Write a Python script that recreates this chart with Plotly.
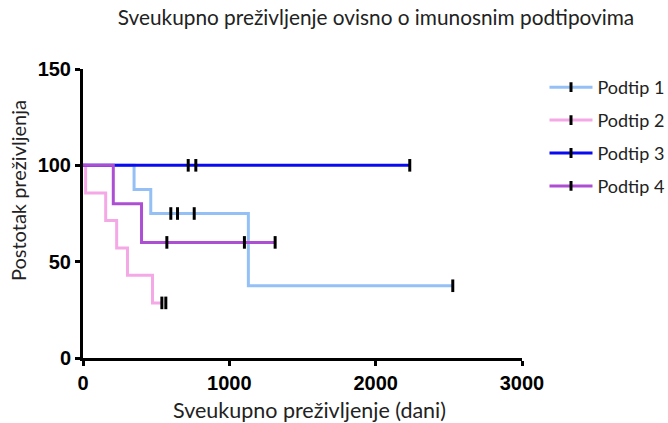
import plotly.graph_objects as go

# Survival curves (step functions): days and percent survival
names = ["Podtip 1", "Podtip 2", "Podtip 3", "Podtip 4"]
colors = ["#94c0f5", "#f5a8e6", "#0a0af0", "#ad4fd3"]

p1_days = [0, 349, 463, 1130, 2527]
p1_surv = [100, 87.5, 75, 37.5, 37.5]
p1_cens_days = [600, 646, 760, 2527]
p1_cens_surv = [75, 75, 75, 37.5]

p2_days = [0, 18, 155, 230, 304, 475, 545]
p2_surv = [100, 85.7, 71.4, 57.1, 42.9, 28.6, 28.6]
p2_cens_days = [539, 566]
p2_cens_surv = [28.6, 28.6]

p3_days = [0, 2233]
p3_surv = [100, 100]
p3_cens_days = [719, 771, 2233]
p3_cens_surv = [100, 100, 100]

p4_days = [0, 207, 400, 1313]
p4_surv = [100, 80, 60, 60]
p4_cens_days = [573, 1103, 1313]
p4_cens_surv = [60, 60, 60]

x_ticks = [0, 1000, 2000, 3000]
y_ticks = [0, 50, 100, 150]

series = [
    (p1_days, p1_surv, p1_cens_days, p1_cens_surv),
    (p2_days, p2_surv, p2_cens_days, p2_cens_surv),
    (p3_days, p3_surv, p3_cens_days, p3_cens_surv),
    (p4_days, p4_surv, p4_cens_days, p4_cens_surv),
]

fig = go.Figure()
for i, (d, s, cd, cs) in enumerate(series):
    fig.add_trace(go.Scatter(x=d, y=s, mode="lines", line=dict(color=colors[i], width=3, shape="hv"),
                             showlegend=False, hoverinfo="skip"))
for i, (d, s, cd, cs) in enumerate(series):
    fig.add_trace(go.Scatter(x=cd, y=cs, mode="markers", showlegend=False, cliponaxis=False,
                             marker=dict(symbol="line-ns", size=9, color="black",
                                         line=dict(color="black", width=3))))
for i in range(4):
    fig.add_trace(go.Scatter(x=[None], y=[None], mode="lines+markers", name=names[i],
                             legendgroup=names[i],
                             line=dict(color=colors[i], width=3),
                             marker=dict(symbol="line-ns", size=7, color="black",
                                         line=dict(color="black", width=3))))

axis_common = dict(showgrid=False, zeroline=False, showline=True, linecolor="black", linewidth=3,
                   ticks="outside", ticklen=5, tickwidth=3, tickcolor="black", automargin=False,
                   tickfont=dict(family="Liberation Sans", size=20, color="black", weight="bold"))

W, H = 668, 423
L, T, R, B = 83, 69, 146, 65
pw, ph = W - L - R, H - T - B

title_font = dict(family="Lato", color="#222222")

fig.update_layout(
    width=W, height=H,
    margin=dict(l=L, r=R, t=T, b=B, autoexpand=False),
    plot_bgcolor="white", paper_bgcolor="white",
    title=dict(text="Sveukupno preživljenje ovisno o imunosnim podtipovima",
               x=376 / W, xanchor="center", y=1 - 18 / H, yanchor="middle",
               font=dict(size=20.8, **title_font)),
    xaxis=dict(range=[0, 3000], tickvals=x_ticks, **axis_common),
    yaxis=dict(range=[0, 150], tickvals=y_ticks, **axis_common),
    legend=dict(x=(544.5 - L) / pw, y=1.0, xanchor="left", yanchor="top",
                font=dict(family="Lato", size=18, color="#222222"), itemwidth=43,
                tracegroupgap=6.5, traceorder="grouped", bgcolor="rgba(0,0,0,0)"),
    showlegend=True,
    annotations=[
        dict(text="Sveukupno preživljenje (dani)", xref="paper", yref="paper",
             x=(309 - L) / pw, y=-(410 - (T + ph)) / ph, xanchor="center", yanchor="middle",
             showarrow=False, font=dict(size=21.5, **title_font)),
        dict(text="Postotak preživljenja", xref="paper", yref="paper", textangle=-90,
             x=(18 - L) / pw, y=((T + ph) - 191) / ph, xanchor="center", yanchor="middle",
             showarrow=False, font=dict(size=20, **title_font)),
    ],
)

fig.write_html("out.html", config={"displayModeBar": False},
               post_script="document.body.style.margin='0';")
